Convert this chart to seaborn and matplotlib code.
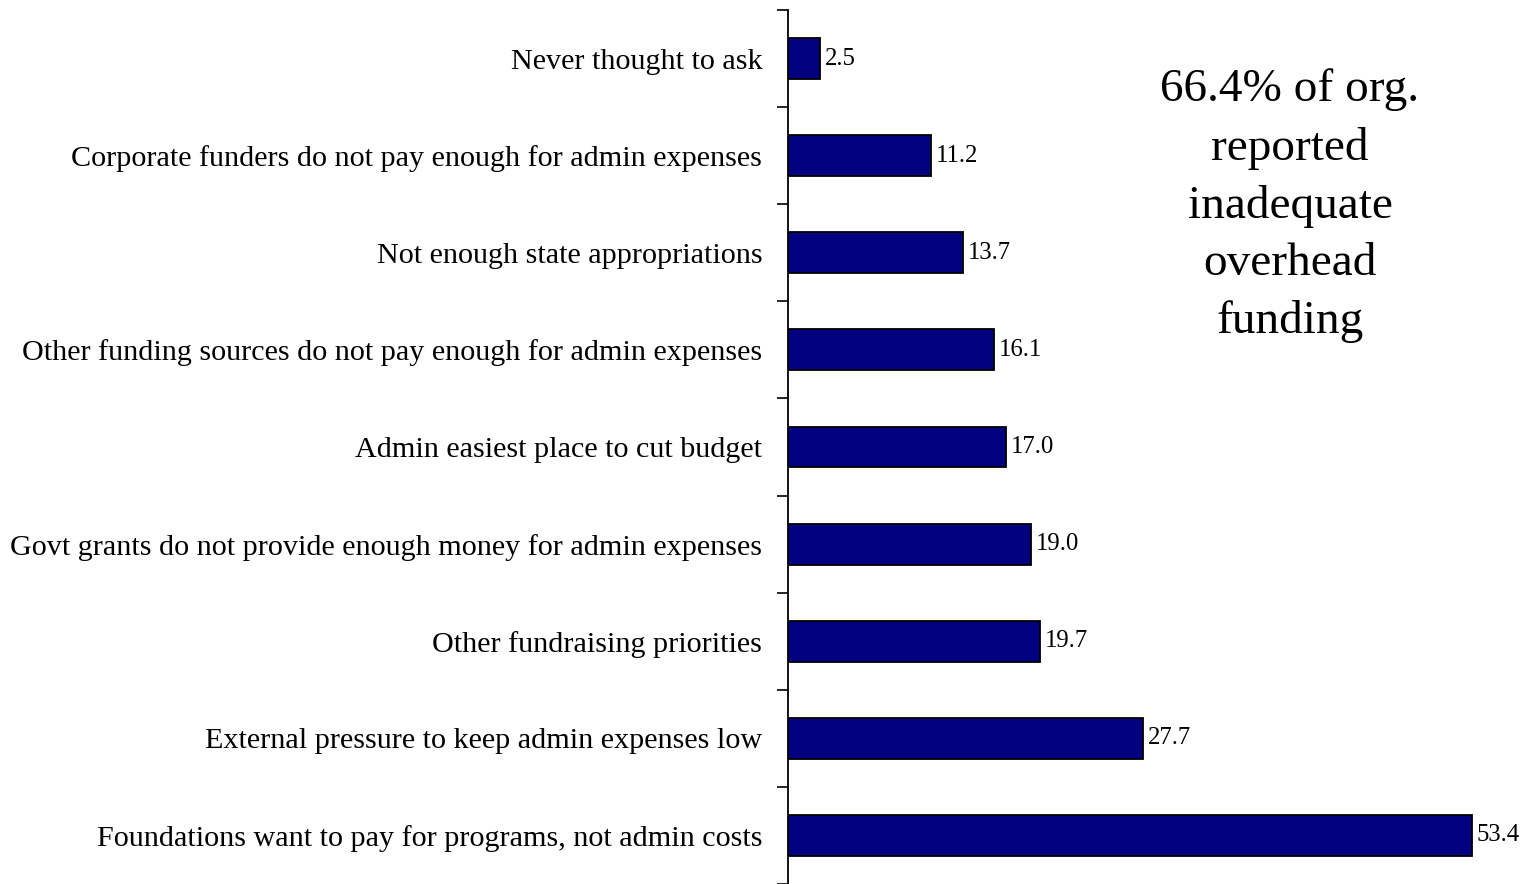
import matplotlib
matplotlib.use("Agg")
import matplotlib.pyplot as plt
import seaborn as sns
import pandas as pd

reasons = [
    "Never thought to ask",
    "Corporate funders do not pay enough for admin expenses",
    "Not enough state appropriations",
    "Other funding sources do not pay enough for admin expenses",
    "Admin easiest place to cut budget",
    "Govt grants do not provide enough money for admin expenses",
    "Other fundraising priorities",
    "External pressure to keep admin expenses low",
    "Foundations want to pay for programs, not admin costs",
]
percent = [2.5, 11.2, 13.7, 16.1, 17.0, 19.0, 19.7, 27.7, 53.4]
note = "66.4% of org.\nreported\ninadequate\noverhead\nfunding"

sns.set_theme(style="white")
plt.rcParams["font.family"] = ["Liberation Serif", "DejaVu Serif"]

df = pd.DataFrame({"reason": reasons, "percent": percent})

fig = plt.figure(figsize=(15.34, 8.84), dpi=100)
ax = fig.add_axes([788 / 1534, 0.0, 1 - 788 / 1534, 1 - 10 / 884])

sns.barplot(data=df, x="percent", y="reason", orient="h", color="#000080",
            saturation=1, edgecolor="black", linewidth=1.3, width=0.42, ax=ax)

ax.set_xlim(0, 746 / 12.8)
ax.set_ylim(len(reasons) - 0.5, -0.5)
ax.set_xlabel("")
ax.set_ylabel("")
ax.set_xticks([])

# tick marks sit on the category boundaries, labels at category centres
ax.set_yticks([i - 0.5 for i in range(len(reasons) + 1)], minor=True)
ax.tick_params(axis="y", which="minor", left=True, length=8, width=1.2, color="black")
ax.tick_params(axis="y", which="major", left=False, length=0, pad=18.5,
               labelsize=21.7, labelcolor="black")

for side in ["top", "right", "bottom"]:
    ax.spines[side].set_visible(False)
ax.spines["left"].set_color("black")
ax.spines["left"].set_linewidth(1.3)

ax.bar_label(ax.containers[0], fmt="%.1f", padding=3.5, fontsize=17.8, color="black")

fig.text(1290 / 1534, 1 - 206 / 884, note, ha="center", va="center",
         fontsize=34, linespacing=1.46, color="black")

fig.savefig("out.png", dpi=100, facecolor="white")
